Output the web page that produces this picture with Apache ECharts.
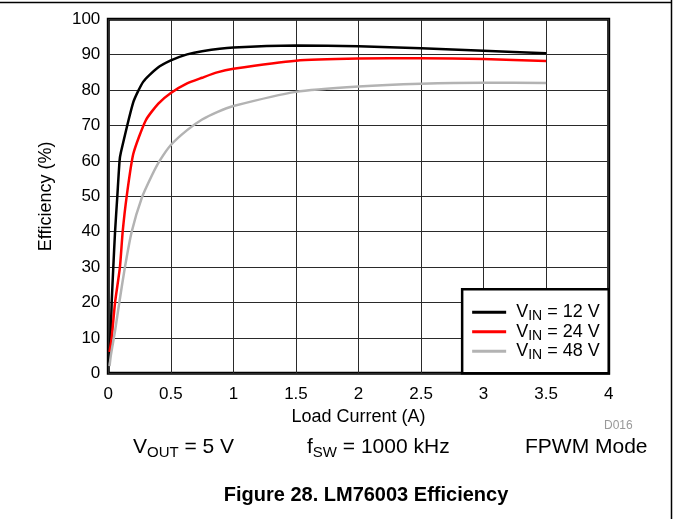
<!DOCTYPE html>
<html>
<head>
<meta charset="utf-8">
<script src="https://cdn.jsdelivr.net/npm/echarts@6/dist/echarts.min.js"></script>
<style>
html,body{margin:0;padding:0;background:#fff;}
#chart{width:673px;height:519px;}
</style>
</head>
<body>
<div id="chart"></div>
<script>
// ---- data ----
const xTicks = [0, 0.5, 1, 1.5, 2, 2.5, 3, 3.5, 4];
const yTicks = [0, 10, 20, 30, 40, 50, 60, 70, 80, 90, 100];

const vinLabels = ['12 V', '24 V', '48 V'];

const load12 = [0.008, 0.02, 0.027, 0.04, 0.054, 0.072, 0.09, 0.1, 0.2, 0.28, 0.39, 0.5, 0.63, 0.75, 1.0, 1.5, 2.0, 2.5, 3.0, 3.5];
const eff12  = [3, 12, 20, 30, 40, 50, 60, 62.3, 76.6, 82.4, 86.2, 88.4, 90.1, 91.0, 92.0, 92.6, 92.4, 91.8, 91.1, 90.4];

const load24 = [0.01, 0.027, 0.054, 0.093, 0.115, 0.147, 0.2, 0.3, 0.4, 0.5, 0.63, 0.75, 0.87, 1.0, 1.5, 2.0, 2.5, 3.0, 3.5];
const eff24  = [6, 10, 20, 30, 40, 50, 62, 71.5, 76.2, 79.2, 81.9, 83.5, 85.0, 86.0, 88.3, 88.9, 89.0, 88.8, 88.2];

const load48 = [0.01, 0.02, 0.054, 0.088, 0.133, 0.187, 0.267, 0.35, 0.41, 0.5, 0.63, 0.75, 0.87, 1.0, 1.5, 2.0, 2.5, 3.0, 3.5];
const eff48  = [2, 5, 12, 20, 30, 40, 49.5, 56, 60, 64.5, 68.7, 71.7, 73.8, 75.5, 79.5, 81.0, 81.8, 82.1, 82.0];

const seriesColors = ['#000000', '#ff0000', '#b3b3b3'];

const zip = (xs, ys) => xs.map((x, i) => [x, ys[i]]);
const FONT = 'Liberation Sans, Arial, Helvetica, sans-serif';

const chart = echarts.init(document.getElementById('chart'), null, {renderer: 'canvas'});

const seriesList = [zip(load12, eff12), zip(load24, eff24), zip(load48, eff48)].map((d, i) => ({
  name: 'VIN = ' + vinLabels[i],
  type: 'line',
  data: d,
  symbol: 'none',
  showSymbol: false,
  smooth: 0.2,
  clip: true,
  lineStyle: {color: seriesColors[i], width: 2.5},
  itemStyle: {color: seriesColors[i]},
  z: 2
}));

const option = {
  animation: false,
  backgroundColor: '#ffffff',
  textStyle: {fontFamily: FONT},
  grid: {
    left: 108.3, top: 19.3, right: 64.3, bottom: 145.7,
    show: true, borderColor: '#000', borderWidth: 3, backgroundColor: 'transparent'
  },
  xAxis: {
    type: 'value', min: xTicks[0], max: xTicks[xTicks.length - 1], interval: 0.5,
    axisLine: {show: false}, axisTick: {show: false},
    splitLine: {show: true, lineStyle: {color: '#2a2a2a', width: 1}},
    axisLabel: {fontSize: 17, color: '#000', margin: 13, fontFamily: FONT,
      formatter: v => String(v)},
    name: 'Load Current (A)', nameLocation: 'middle', nameGap: 31,
    nameTextStyle: {fontSize: 18, color: '#000', fontFamily: FONT}
  },
  yAxis: {
    type: 'value', min: yTicks[0], max: yTicks[yTicks.length - 1], interval: 10,
    axisLine: {show: false}, axisTick: {show: false},
    splitLine: {show: true, lineStyle: {color: '#2a2a2a', width: 1}},
    axisLabel: {fontSize: 17, color: '#000', margin: 8, fontFamily: FONT},
    name: 'Efficiency (%)', nameLocation: 'middle', nameGap: 53, nameRotate: 90,
    nameTextStyle: {fontSize: 18, color: '#000', fontFamily: FONT}
  },
  legend: {
    orient: 'vertical', right: 64.3, bottom: 145.7,
    backgroundColor: '#fff', borderColor: '#000', borderWidth: 2.5, borderRadius: 0,
    padding: [12, 9, 11, 10],
    itemWidth: 34, itemHeight: 3, itemGap: -2.5, icon: 'rect',
    data: seriesList.map(s => s.name),
    formatter: function (name) {
      const v = name.replace('VIN = ', '');
      return '{p|V}{s|IN}{a| = ' + v + '}';
    },
    textStyle: {
      color: '#000', fontFamily: FONT,
      rich: {
        p: {fontSize: 18, lineHeight: 18, fontFamily: FONT, color: '#000', padding: [0, 0, 0, 5]},
        s: {fontSize: 14, lineHeight: 10, fontFamily: FONT, color: '#000', padding: [8, 0, 0, 0]},
        a: {fontSize: 18, lineHeight: 18, fontFamily: FONT, color: '#000'}
      }
    }
  },
  graphic: [
    {type: 'line', shape: {x1: 0, y1: 2.5, x2: 671.5, y2: 2.5}, style: {stroke: '#000', lineWidth: 1.5}, silent: true},
    {type: 'line', shape: {x1: 671.5, y1: 0, x2: 671.5, y2: 519}, style: {stroke: '#000', lineWidth: 1.5}, silent: true},
    {type: 'text', x: 133, y: 447, silent: true, style: {
      text: '{p|V}{s|OUT}{p| = 5 V}', verticalAlign: 'middle', align: 'left',
      rich: {
        p: {fontSize: 21, lineHeight: 26, fontFamily: FONT, fill: '#000'},
        s: {fontSize: 15, lineHeight: 15, fontFamily: FONT, fill: '#000', padding: [11, 0, 0, 0]}
      }}},
    {type: 'text', x: 307, y: 447, silent: true, style: {
      text: '{p|f}{s|SW}{p| = 1000 kHz}', verticalAlign: 'middle', align: 'left',
      rich: {
        p: {fontSize: 21, lineHeight: 26, fontFamily: FONT, fill: '#000'},
        s: {fontSize: 15, lineHeight: 15, fontFamily: FONT, fill: '#000', padding: [11, 0, 0, 0]}
      }}},
    {type: 'text', x: 525, y: 447, silent: true, style: {
      text: 'FPWM Mode', verticalAlign: 'middle', align: 'left',
      fontSize: 21, fontFamily: FONT, fill: '#000'}},
    {type: 'text', x: 604, y: 425.5, silent: true, style: {
      text: 'D016', verticalAlign: 'middle', align: 'left',
      fontSize: 12, fontFamily: FONT, fill: '#999'}},
    {type: 'text', x: 366, y: 495, silent: true, style: {
      text: 'Figure 28. LM76003 Efficiency', verticalAlign: 'middle', align: 'center',
      fontSize: 20, fontWeight: 'bold', fontFamily: FONT, fill: '#000'}}
  ],
  series: seriesList
};

chart.setOption(option);
</script>
</body>
</html>
